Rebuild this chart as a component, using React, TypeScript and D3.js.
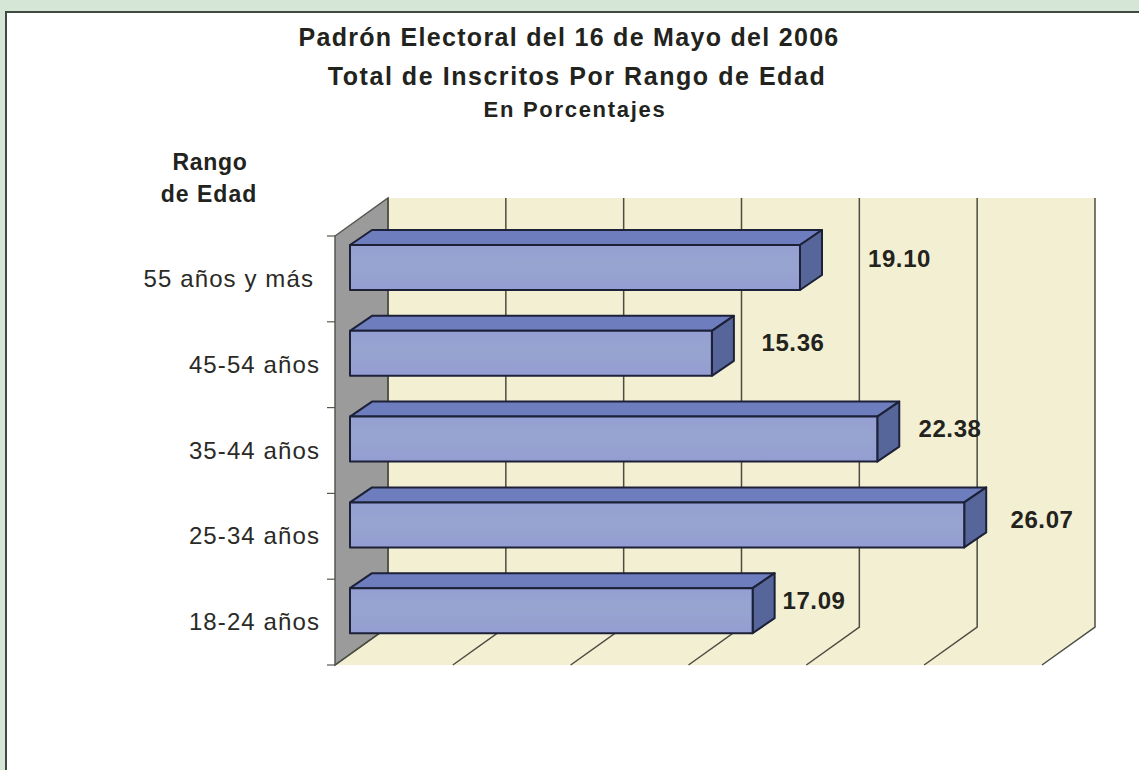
import React from "react";
import * as d3 from "d3";

const categories = ["55 años y más", "45-54 años", "35-44 años", "25-34 años", "18-24 años"];
const values = [19.1, 15.36, 22.38, 26.07, 17.09];
const valueLabels = ["19.10", "15.36", "22.38", "26.07", "17.09"];
const gridTicks = [0, 5, 10, 15, 20, 25, 30];
const titleLines = ["Padrón Electoral del 16 de Mayo del 2006", "Total de Inscritos Por Rango de Edad", "En Porcentajes"];
const font = "'Liberation Sans', Arial, sans-serif";

export default function App() {
  const wallDx = 53, wallDy = 38;
  const x = d3.scaleLinear().domain([0, 30]).range([335, 1042]);
  const y = d3.scaleBand().domain(categories).range([236, 665]);
  const barX0 = 350;
  const barX = d3.scaleLinear().domain([0, 5]).range([barX0, barX0 + 117.8]);
  const barH = 45, bd = 22, bdy = 15;
  const top = y.range()[0], bot = y.range()[1];
  const labelPos = [[899.5, 267], [793, 351], [950, 437], [1042, 528], [814, 609]];
  const ink = "#23231d";
  return (
    <svg width={1139} height={770} style={{ position: "absolute", left: 0, top: 0, display: "block" }} fontFamily={font}>
      <defs>
        <linearGradient id="barFace" x1="0" y1="0" x2="0" y2="1">
          <stop offset="0" stopColor="#959fd3" />
          <stop offset="0.45" stopColor="#97a4cf" />
          <stop offset="1" stopColor="#949dd2" />
        </linearGradient>
      </defs>
      <rect width={1139} height={770} fill="#d5e5d6" />
      <rect x={6} y={12} width={1140} height={770} fill="#ffffff" stroke="#3f4a43" strokeWidth={2} />
      <polygon points={`${x(0) + wallDx},${top - wallDy} ${x(30) + wallDx},${top - wallDy} ${x(30) + wallDx},${bot - wallDy} ${x(30)},${bot} ${x(0)},${bot} ${x(0) + wallDx},${bot - wallDy}`} fill="#f3efd3" />
      <polygon points={`${x(0)},${top} ${x(0) + wallDx},${top - wallDy} ${x(0) + wallDx},${bot - wallDy} ${x(0)},${bot}`} fill="#9b9b9b" stroke="#55584f" strokeWidth={1.5} />
      {gridTicks.map((t) => (
        <polyline key={t} points={`${x(t) + wallDx},${top - wallDy} ${x(t) + wallDx},${bot - wallDy} ${x(t)},${bot}`} fill="none" stroke="#4c4d42" strokeWidth={1.5} />
      ))}
      {[...categories.map((c) => y(c)!), bot].map((p, i) => (
        <line key={i} x1={x(0) - 8} x2={x(0)} y1={p} y2={p} stroke="#55584f" strokeWidth={1.2} />
      ))}
      {categories.map((c, i) => {
        const yt = y(c)! + 9;
        const x1 = barX(values[i]);
        return (
          <g key={c} stroke="#1c2138" strokeWidth={2} strokeLinejoin="round">
            <polygon points={`${barX0},${yt} ${barX0 + bd},${yt - bdy} ${x1 + bd},${yt - bdy} ${x1},${yt}`} fill="#6d7dbd" />
            <polygon points={`${x1},${yt} ${x1 + bd},${yt - bdy} ${x1 + bd},${yt + barH - bdy} ${x1},${yt + barH}`} fill="#56659a" />
            <rect x={barX0} y={yt} width={x1 - barX0} height={barH} fill="url(#barFace)" />
          </g>
        );
      })}
      {categories.map((c, i) => (
        <text key={c} x={i === 0 ? 314 : 320} y={y(c)! + 51} textAnchor="end" fontSize={24} letterSpacing={1.1} fill="#2a2a26">{c}</text>
      ))}
      {valueLabels.map((v, i) => (
        <text key={v} x={labelPos[i][0]} y={labelPos[i][1]} textAnchor="middle" fontSize={24} letterSpacing={0.6} fontWeight="bold" fill={ink}>{v}</text>
      ))}
      <text x={569} y={46} textAnchor="middle" fontSize={25} letterSpacing={1.3} fontWeight="bold" fill={ink}>{titleLines[0]}</text>
      <text x={577} y={85} textAnchor="middle" fontSize={25} letterSpacing={1.55} fontWeight="bold" fill={ink}>{titleLines[1]}</text>
      <text x={575} y={117} textAnchor="middle" fontSize={22} letterSpacing={1.7} fontWeight="bold" fill={ink}>{titleLines[2]}</text>
      <text x={210} y={170} textAnchor="middle" fontSize={23} letterSpacing={0.7} fontWeight="bold" fill={ink}>Rango</text>
      <text x={209} y={202} textAnchor="middle" fontSize={23} letterSpacing={1} fontWeight="bold" fill={ink}>de Edad</text>
    </svg>
  );
}
